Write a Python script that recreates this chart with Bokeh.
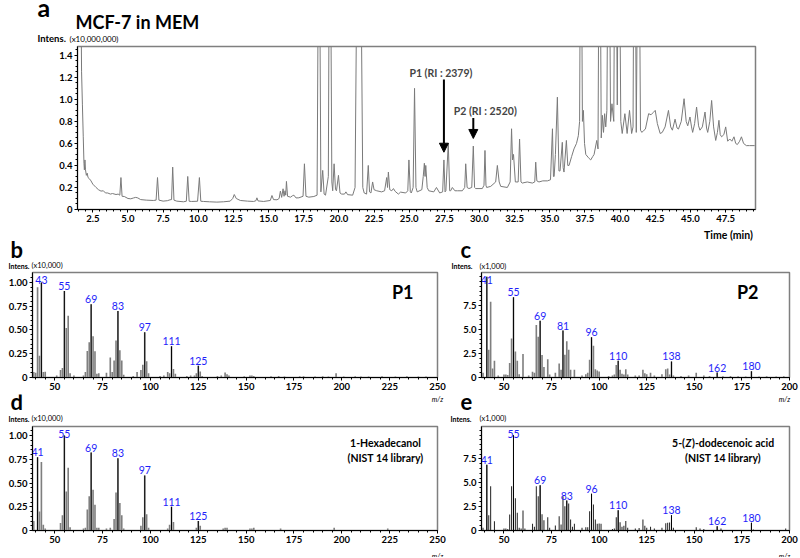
import numpy as np
from bokeh.plotting import figure
from bokeh.layouts import column, row
from bokeh.models import Range1d, FixedTicker, Label, Arrow, NormalHead
from bokeh.core.properties import value
from bokeh.embed import file_html
from bokeh.resources import INLINE

FONT = "Lato"

# ---------------- data: panel a (total ion chromatogram) ----------------
chrom_time = [1.42, 1.50, 1.62, 1.70, 1.76, 1.82, 1.87, 1.90, 1.94, 1.98, 2.04, 2.10, 2.16, 2.25, 2.37, 2.50,
              2.73, 2.90, 3.08, 3.25, 3.40, 3.56, 3.75, 3.90, 4.15, 4.30, 4.42, 4.50, 4.58, 4.74, 5.00, 5.20,
              5.40, 5.55, 5.70, 5.90, 6.30, 6.80, 7.00, 7.10, 7.20, 7.50, 7.80, 7.99, 8.10, 8.18, 8.27, 8.47,
              8.94, 9.15, 9.25, 9.35, 9.53, 9.95, 10.08, 10.18, 10.37, 10.80, 11.32, 11.80, 12.27, 12.45, 12.56,
              12.70, 12.99, 13.50, 13.94, 14.10, 14.17, 14.25, 14.65, 15.12, 15.24, 15.35, 15.60, 15.75, 15.84,
              15.93, 16.03, 16.10, 16.17, 16.22, 16.27, 16.35, 16.56, 16.70, 16.80, 16.95, 17.15, 17.45, 17.55,
              17.66, 17.86, 18.22, 18.45, 18.55, 18.62, 18.72, 18.85, 18.95, 19.05, 19.25, 19.32, 19.40, 19.50,
              19.56, 19.66, 19.76, 19.83, 19.97, 20.08, 20.20, 20.40, 20.50, 20.62, 20.98, 21.15, 21.30, 21.55,
              21.70, 21.80, 21.97, 22.09, 22.18, 22.28, 22.40, 22.50, 22.69, 23.04, 23.25, 23.40, 23.46, 23.52,
              23.62, 23.76, 23.88, 24.00, 24.23, 24.39, 24.75, 24.90, 24.98, 25.08, 25.15, 25.28, 25.38, 25.48,
              25.57, 25.90, 26.00, 26.08, 26.13, 26.18, 26.28, 26.39, 26.75, 26.94, 27.17, 27.38, 27.47, 27.55,
              27.61, 27.78, 27.88, 27.95, 28.07, 28.25, 28.43, 28.78, 28.95, 29.02, 29.12, 29.25, 29.45, 29.56,
              29.65, 29.73, 30.20, 30.32, 30.39, 30.46, 30.51, 30.80, 31.15, 31.27, 31.40, 31.51, 31.98, 32.18,
              32.28, 32.35, 32.42, 32.55, 32.75, 32.85, 32.95, 33.04, 33.40, 33.76, 33.93, 34.00, 34.08, 34.23,
              34.50, 34.83, 35.05, 35.19, 35.26, 35.31, 35.40, 35.54, 35.65, 35.73, 35.89, 35.95, 36.01, 36.18,
              36.28, 36.37, 36.55, 36.72, 36.90, 37.03, 37.12, 37.18, 37.25, 37.32, 37.39, 37.47, 37.56, 37.75,
              37.91, 38.05, 38.15, 38.34, 38.43, 38.50, 38.58, 38.66, 38.74, 38.82, 38.90, 38.98, 39.06, 39.14,
              39.24, 39.32, 39.42, 39.55, 39.62, 39.72, 39.80, 39.86, 39.95, 40.05, 40.15, 40.34, 40.50, 40.67,
              40.82, 40.92, 40.98, 41.08, 41.15, 41.26, 41.36, 41.45, 41.55, 41.70, 41.80, 42.03, 42.20, 42.35,
              42.50, 42.65, 42.85, 43.00, 43.20, 43.44, 43.60, 43.72, 43.91, 44.05, 44.15, 44.35, 44.55, 44.70,
              44.81, 44.97, 45.08, 45.16, 45.30, 45.44, 45.58, 45.68, 45.85, 46.04, 46.15, 46.23, 46.38, 46.51,
              46.65, 46.80, 46.92, 47.03, 47.12, 47.22, 47.38, 47.51, 47.65, 47.80, 47.95, 48.10, 48.22, 48.34,
              48.50, 48.63, 48.78, 48.98, 49.20, 49.57]
chrom_int = [1.60, 2.50, 2.50, 1.25, 0.95, 0.66, 0.42, 0.36, 0.45, 0.36, 0.31, 0.33, 0.29, 0.28, 0.26, 0.23,
             0.20, 0.18, 0.167, 0.17, 0.15, 0.15, 0.14, 0.145, 0.136, 0.14, 0.13, 0.29, 0.12, 0.118, 0.10, 0.097,
             0.105, 0.11, 0.105, 0.09, 0.085, 0.082, 0.085, 0.29, 0.085, 0.076, 0.08, 0.088, 0.09, 0.385, 0.085, 0.076,
             0.07, 0.075, 0.30, 0.075, 0.073, 0.075, 0.29, 0.075, 0.073, 0.07, 0.067, 0.07, 0.076, 0.10, 0.136,
             0.10, 0.082, 0.076, 0.073, 0.08, 0.106, 0.078, 0.073, 0.082, 0.127, 0.09, 0.088, 0.10, 0.167,
             0.11, 0.188, 0.12, 0.17, 0.13, 0.255, 0.12, 0.112, 0.125, 0.13, 0.105, 0.106, 0.12, 0.415,
             0.12, 0.112, 0.118, 0.13, 2.5, 2.5, 0.16, 0.355, 0.14, 0.13, 0.30, 2.5, 2.5, 0.25,
             0.17, 0.415, 0.18, 0.17, 0.31, 0.15, 0.14, 0.14, 0.16, 0.135, 0.13, 0.20, 2.5, 2.5,
             0.20, 0.15, 0.14, 0.40, 0.16, 0.15, 0.25, 0.18, 0.17, 0.16, 0.17, 0.29, 0.20, 0.34,
             0.18, 0.17, 0.19, 0.165, 0.14, 0.158, 0.15, 0.17, 0.45, 0.16, 0.15, 0.20, 1.10, 0.20,
             0.16, 0.18, 0.30, 0.42, 0.30, 0.40, 0.20, 0.17, 0.16, 0.20, 0.15, 0.16, 0.45, 0.16,
             0.17, 0.60, 0.17, 0.17, 0.20, 0.17, 0.17, 0.17, 0.20, 0.415, 0.20, 0.19, 0.20, 0.576,
             0.20, 0.19, 0.19, 0.22, 0.536, 0.22, 0.20, 0.21, 0.25, 0.40, 0.25, 0.21, 0.20, 0.25,
             0.733, 0.45, 0.50, 0.25, 0.25, 0.64, 0.25, 0.24, 0.25, 0.24, 0.25, 0.43, 0.26, 0.25,
             0.26, 0.26, 0.27, 0.733, 0.30, 0.30, 0.50, 1.02, 0.35, 0.35, 0.61, 0.38, 0.34, 0.627,
             0.40, 0.40, 0.48, 0.55, 0.60, 0.67, 0.80, 2.5, 2.5, 0.80, 0.90, 0.60, 0.50, 0.47,
             0.45, 0.48, 0.50, 0.627, 0.55, 2.5, 2.5, 0.65, 0.855, 0.70, 0.87, 0.75, 0.90, 2.5,
             2.5, 0.80, 0.96, 0.80, 2.5, 2.5, 0.95, 2.5, 2.5, 0.80, 0.69, 0.87, 0.69, 0.90,
             0.69, 0.75, 2.5, 2.5, 0.70, 2.5, 2.5, 0.72, 0.70, 0.72, 0.73, 0.87, 0.86, 0.88,
             0.90, 0.78, 0.69, 0.70, 0.75, 0.90, 0.75, 0.72, 0.82, 0.74, 0.73, 0.80, 1.006, 0.80,
             0.76, 0.84, 0.75, 0.70, 0.78, 0.93, 0.76, 0.72, 0.75, 0.885, 0.74, 0.70, 0.80, 0.99,
             0.75, 0.627, 0.70, 0.81, 0.68, 0.66, 0.68, 0.75, 0.62, 0.64, 0.62, 0.66, 0.60, 0.59,
             0.62, 0.66, 0.60, 0.58, 0.58, 0.58]
time_ticks = [2.5, 5.0, 7.5, 10.0, 12.5, 15.0, 17.5, 20.0, 22.5, 25.0, 27.5, 30.0, 32.5, 35.0, 37.5, 40.0,
              42.5, 45.0, 47.5]
time_tick_labels = ["2.5", "5.0", "7.5", "10.0", "12.5", "15.0", "17.5", "20.0", "22.5", "25.0", "27.5",
                    "30.0", "32.5", "35.0", "37.5", "40.0", "42.5", "45.0", "47.5"]
tic_ticks = [0.0, 0.2, 0.4, 0.6, 0.8, 1.0, 1.2, 1.4]
tic_tick_labels = ["0", "0.2", "0.4", "0.6", "0.8", "1.0", "1.2", "1.4"]

marker_time = [27.47, 29.56]
marker_top = [1.18, 0.83]
marker_bottom = [0.52, 0.645]
marker_text = ["P1 (RI : 2379)", "P2 (RI : 2520)"]

# ---------------- data: mass spectra ----------------
b_mz = [39, 40, 41, 42, 43, 44, 45, 51, 53, 54, 55, 56, 57, 58, 60, 65, 66, 67, 68, 69, 70, 71, 72, 73,
        77, 79, 80, 81, 82, 83, 84, 85, 86, 91, 93, 95, 96, 97, 98, 99, 105, 107, 109, 110, 111, 112, 113,
        119, 121, 123, 124, 125, 126, 127, 135, 137, 139, 140, 141, 149, 152, 153, 154, 163, 167, 170, 178,
        180, 186, 190, 193, 197, 201, 207, 210, 214, 221, 228, 234, 240, 244]
b_int = [0.057, 0.05, 0.95, 0.23, 1.0, 0.057, 0.06, 0.02, 0.08, 0.10, 0.91, 0.52, 0.65, 0.046, 0.02,
         0.02, 0.057, 0.28, 0.37, 0.77, 0.435, 0.275, 0.04, 0.046, 0.05, 0.21, 0.057, 0.18, 0.39, 0.70,
         0.286, 0.18, 0.03, 0.015, 0.057, 0.08, 0.134, 0.477, 0.17, 0.046, 0.015, 0.02, 0.057, 0.046, 0.33,
         0.09, 0.04, 0.015, 0.02, 0.02, 0.046, 0.124, 0.064, 0.015, 0.015, 0.02, 0.053, 0.035, 0.02, 0.012,
         0.02, 0.02, 0.015, 0.012, 0.015, 0.01, 0.012, 0.012, 0.01, 0.012, 0.01, 0.046, 0.01, 0.012, 0.01,
         0.01, 0.012, 0.01, 0.012, 0.01, 0.01]
b_labels = [43, 55, 69, 83, 97, 111, 125]

c_mz = [39, 41, 42, 43, 44, 45, 47, 50, 51, 52, 53, 54, 55, 56, 57, 58, 60, 63, 65, 66, 67, 68, 69, 70,
        71, 73, 74, 77, 79, 80, 81, 82, 83, 84, 85, 87, 91, 93, 94, 95, 96, 97, 98, 99, 100, 105, 107, 108,
        109, 110, 111, 112, 113, 114, 115, 119, 121, 123, 124, 125, 127, 129, 133, 135, 136, 137, 138, 139,
        143, 147, 151, 155, 158, 162, 165, 169, 173, 177, 180, 184, 188, 193, 197]
c_int = [0.5, 10.5, 2.9, 7.9, 0.95, 1.75, 0.2, 0.3, 0.3, 0.25, 1.5, 4.08, 8.37, 2.7, 1.75, 0.35, 2.44,
         0.2, 0.6, 0.5, 5.48, 4.26, 5.93, 2.34, 1.1, 1.9, 0.3, 0.5, 1.46, 0.8, 4.9, 2.37, 3.77, 2.9, 0.8,
         0.8, 0.2, 0.35, 0.5, 1.85, 4.19, 3.3, 0.87, 0.73, 0.63, 0.15, 0.2, 0.3, 1.3, 1.75, 0.8, 0.4, 0.3,
         0.87, 0.3, 0.2, 0.2, 0.8, 0.45, 0.35, 0.5, 0.2, 0.35, 0.87, 0.95, 0.3, 1.67, 0.2, 0.15, 0.2, 0.5,
         0.2, 0.15, 0.52, 0.12, 0.15, 0.12, 0.1, 0.66, 0.1, 0.12, 0.1, 0.12]
c_labels = [41, 55, 69, 81, 96, 110, 138, 162, 180]

d_mz = [39, 41, 42, 43, 44, 45, 53, 54, 55, 56, 57, 58, 65, 66, 67, 68, 69, 70, 71, 72, 73, 77, 79, 81,
        82, 83, 84, 85, 86, 95, 96, 97, 98, 99, 109, 110, 111, 112, 124, 125, 126, 138, 139, 140, 152, 153,
        154, 168, 196, 224]
d_int = [0.1, 0.77, 0.2, 0.72, 0.06, 0.02, 0.08, 0.16, 1.0, 0.41, 0.66, 0.035, 0.02, 0.03, 0.22, 0.36,
         0.82, 0.43, 0.27, 0.03, 0.03, 0.02, 0.03, 0.12, 0.40, 0.76, 0.29, 0.16, 0.02, 0.05, 0.14, 0.58,
         0.17, 0.03, 0.02, 0.06, 0.25, 0.09, 0.03, 0.1, 0.05, 0.02, 0.03, 0.03, 0.02, 0.02, 0.03, 0.02,
         0.03, 0.02]
d_labels = [41, 55, 69, 83, 97, 111, 125]

e_mz = [39, 41, 42, 43, 45, 50, 51, 52, 53, 54, 55, 56, 57, 58, 59, 60, 61, 65, 66, 67, 68, 69, 70, 71,
        73, 74, 77, 79, 80, 81, 82, 83, 84, 85, 86, 87, 91, 93, 94, 95, 96, 97, 98, 99, 100, 101, 107, 108,
        109, 110, 111, 112, 113, 114, 115, 119, 121, 123, 124, 125, 127, 129, 133, 135, 136, 137, 138, 139,
        151, 153, 155, 162, 164, 180, 181, 198]
e_int = [0.3, 6.9, 1.6, 4.64, 0.98, 0.2, 0.2, 0.15, 1.67, 4.64, 9.98, 3.38, 1.85, 0.3, 0.2, 2.09, 0.2,
         0.7, 0.4, 4.64, 3.6, 4.74, 1.7, 1.08, 1.4, 0.3, 0.52, 1.5, 0.63, 3.6, 2.55, 3.14, 2.83, 1.15, 0.4,
         0.7, 0.3, 0.35, 0.35, 2.02, 3.84, 2.72, 1.15, 0.7, 0.73, 0.7, 0.15, 0.2, 1.4, 2.13, 0.87, 0.4,
         0.5, 1.0, 0.3, 0.2, 0.25, 1.15, 0.5, 0.3, 0.4, 0.2, 0.3, 0.75, 0.8, 0.85, 1.6, 0.3, 0.35, 0.2,
         0.15, 0.45, 0.2, 0.8, 0.1, 0.2]
e_labels = [41, 55, 69, 83, 96, 110, 138, 162, 180]

mz_ticks_long = [50, 75, 100, 125, 150, 175, 200, 225, 250]
mz_ticks_short = [50, 75, 100, 125, 150, 175, 200]
rel_ticks = [0.0, 0.25, 0.5, 0.75, 1.0]
rel_tick_labels = ["0", "0.25", "0.50", "0.75", "1.00"]
k_ticks = [0.0, 2.5, 5.0, 7.5]
k_tick_labels = ["0", "2.5", "5.0", "7.5"]

BLUE = "#1e1efa"
W = 800


def base_fig(w, h, bl, br, bt, bb, xr, yr):
    p = figure(width=w, height=h, x_range=Range1d(*xr), y_range=Range1d(*yr), title=None,
               output_backend="svg", toolbar_location=None,
               min_border_left=bl, min_border_right=br, min_border_top=bt, min_border_bottom=bb)
    p.xgrid.visible = False
    p.ygrid.visible = False
    p.outline_line_color = "#7f7f7f"
    p.outline_line_width = 1.5
    p.border_fill_color = "white"
    p.background_fill_color = "white"
    for ax in (p.xaxis[0], p.yaxis[0]):
        ax.axis_line_color = "black"
        ax.axis_line_width = 1
        ax.major_tick_in = 0
        ax.major_tick_out = 3
        ax.minor_tick_in = 0
        ax.minor_tick_out = 2
        ax.major_tick_line_color = "black"
        ax.minor_tick_line_color = "black"
        ax.major_label_text_font = FONT
        ax.major_label_text_font_style = "bold"
        ax.major_label_text_font_size = "9.5px"
        ax.major_label_text_color = "black"
        ax.major_label_standoff = 2
    return p


def set_ticks(axis, ticks, labels, minor):
    axis.ticker = FixedTicker(ticks=ticks, minor_ticks=minor)
    axis.major_label_overrides = {t: l for t, l in zip(ticks, labels)}


def strip(h, top, items):
    """A plain canvas (frame = whole canvas) holding texts given in page pixels.
    Items whose 7th field is 'base' give the baseline; it is turned into a middle anchor."""
    s = figure(width=W, height=h, x_range=Range1d(0, W), y_range=Range1d(0, h), title=None,
               x_axis_type=None, y_axis_type=None, min_border=0,
               output_backend="svg", toolbar_location=None)
    s.outline_line_color = None
    s.border_fill_color = "white"
    s.background_fill_color = "white"
    for it in items:
        px, py, txt, size = it[:4]
        style = it[4] if len(it) > 4 else "normal"
        align = it[5] if len(it) > 5 else "left"
        if len(it) > 6 and it[6] == "base":
            py = py - 0.4 * size
        s.add_layout(Label(x=px, y=h - (py - top), x_units="screen", y_units="screen", text=txt,
                           text_font=FONT, text_font_size=f"{size}px", text_font_style=style,
                           text_align=align, text_baseline="middle", text_color="black"))
    return row(s)


def ftxt(p, fl, fb, px, py, s, size, style="normal", align="left"):
    p.add_layout(Label(x=px - fl, y=fb - py, x_units="screen", y_units="screen", text=s,
                       text_font=FONT, text_font_size=f"{size}px", text_font_style=style,
                       text_align=align, text_baseline="middle", text_color="black"))


# ---------------- header strip (y 0-44) ----------------
s0 = strip(44, 0, [
    (37, 16, "a", 25, "bold", "left", "base"),
    (75, 28.5, "MCF-7 in MEM", 18, "bold", "left", "base"),
    (37, 38, "Intens.", 9.5, "bold"),
    (69, 38, "(x10,000,000)", 8),
])

# ---------------- panel a (y 44-227) ----------------
pa = base_fig(W, 183, 77, 45, 2, 18, (1.41, 49.63), (0, 1.48))
set_ticks(pa.xaxis[0], time_ticks, time_tick_labels, list(np.arange(1.5, 49.6, 0.5)))
set_ticks(pa.yaxis[0], tic_ticks, tic_tick_labels, list(np.arange(0, 1.48, 0.05)))
pa.line(chrom_time, chrom_int, line_color="#7a7a7a", line_width=1)
for t, top, bot, s, dx in zip(marker_time, marker_top, marker_bottom, marker_text, [-3, 12]):
    pa.add_layout(Arrow(x_start=t, y_start=top, x_end=t, y_end=bot, line_width=2, line_color="black",
                        end=NormalHead(size=9, fill_color="black", line_color="black")))
    pa.add_layout(Label(x=t, y=top, x_offset=dx, y_offset=1, text=s, text_font=FONT,
                        text_font_size="10.5px", text_font_style="bold", text_align="center",
                        text_baseline="bottom"))

# ---------------- strip between a and b/c (y 227-270) ----------------
s1 = strip(43, 227, [
    (728, 234, "Time (min)", 10.5, "bold", "center"),
    (10, 258, "b", 22, "bold", "left", "base"),
    (8, 265, "Intens.", 7, "bold"),
    (31, 265, "(x10,000)", 7.5),
    (460, 258, "c", 22, "bold", "left", "base"),
    (451, 265, "Intens.", 7, "bold"),
    (479, 266, "(x1,000)", 7.5),
])


def spectrum(w, h, bl, br, bt, bb, xr, yr, mz, inten, labels, ticks, ylab_t, ylab_s, yminor, dark):
    p = base_fig(w, h, bl, br, bt, bb, xr, yr)
    set_ticks(p.xaxis[0], ticks, [str(t) for t in ticks], list(range(40, int(xr[1]) + 1, 5)))
    set_ticks(p.yaxis[0], ylab_t, ylab_s, yminor)
    lookup = dict(zip(mz, inten))
    if dark:
        p.vbar(x=mz, top=inten, width=0.55, bottom=0, fill_color="#2a2a2a", line_color=None)
    else:
        p.vbar(x=mz, top=inten, width=0.85, bottom=0, fill_color="#7f7f7f", line_color=None)
    tops = [lookup[m] for m in labels]
    p.vbar(x=labels, top=tops, width=0.5, bottom=0, fill_color="black", line_color=None)
    cap = 0.88 * yr[1]
    p.text(x=labels, y=[min(v, cap) for v in tops], text=[str(m) for m in labels], y_offset=-1,
           text_align="center", text_baseline="bottom", text_font=value(FONT),
           text_font_size="10.5px", text_color=BLUE)
    return p


# ---------------- panels b, c (y 270-394) ----------------
pb = spectrum(448, 124, 32, 11, 2, 17, (38.35, 250), (0, 1.105), b_mz, b_int, b_labels,
              mz_ticks_long, rel_ticks, rel_tick_labels, list(np.arange(0, 1.1, 0.05)), False)
pc = spectrum(352, 124, 33, 11, 2, 17, (38.2, 200), (0, 10.95), c_mz, c_int, c_labels,
              mz_ticks_short, k_ticks, k_tick_labels, list(np.arange(0, 10.9, 0.5)), False)
ftxt(pb, 32, 377, 413, 291, "P1", 18, "bold", "right")
ftxt(pc, 481, 377, 758, 291, "P2", 18, "bold", "right")

# ---------------- strip between b/c and d/e (y 394-424) ----------------
s2 = strip(30, 394, [
    (437, 398, "m/z", 7, "italic", "center"),
    (784, 398, "m/z", 7, "italic", "center"),
    (10, 410, "d", 22, "bold", "left", "base"),
    (8, 418, "Intens.", 7, "bold"),
    (31, 418, "(x10,000)", 7.5),
    (460, 410, "e", 22, "bold", "left", "base"),
    (450, 418, "Intens.", 7, "bold"),
    (479, 418, "(x1,000)", 7.5),
])

# ---------------- panels d, e (y 424-548) ----------------
pd_ = spectrum(448, 124, 32, 11, 2, 18, (38.35, 250), (0, 1.095), d_mz, d_int, d_labels,
               mz_ticks_long, rel_ticks, rel_tick_labels, list(np.arange(0, 1.09, 0.05)), False)
pe = spectrum(352, 124, 33, 11, 2, 18, (38.2, 200), (0, 10.9), e_mz, e_int, e_labels,
              mz_ticks_short, k_ticks, k_tick_labels, list(np.arange(0, 10.9, 0.5)), True)
FD = (32, 530)
FE = (481, 530)
ftxt(pd_, *FD, 385, 442, "1-Hexadecanol", 10.5, "bold", "center")
ftxt(pd_, *FD, 385, 457, "(NIST 14 library)", 10.5, "bold", "center")
ftxt(pe, *FE, 684.5, 442, "5-(", 10.5, "bold", "right")
ftxt(pe, *FE, 688, 442, "Z", 10.5, "bold italic", "center")
ftxt(pe, *FE, 691.5, 442, ")-dodecenoic acid", 10.5, "bold", "left")
ftxt(pe, *FE, 722.5, 457, "(NIST 14 library)", 10.5, "bold", "center")

# ---------------- bottom strip (y 548-557) ----------------
s3 = strip(9, 548, [
    (437, 552.5, "m/z", 7, "italic", "center"),
    (784, 552.5, "m/z", 7, "italic", "center"),
])

layout = column(s0, row(pa), s1, row(pb, pc), s2, row(pd_, pe), s3)
open("out.html", "w").write(file_html(layout, INLINE))
